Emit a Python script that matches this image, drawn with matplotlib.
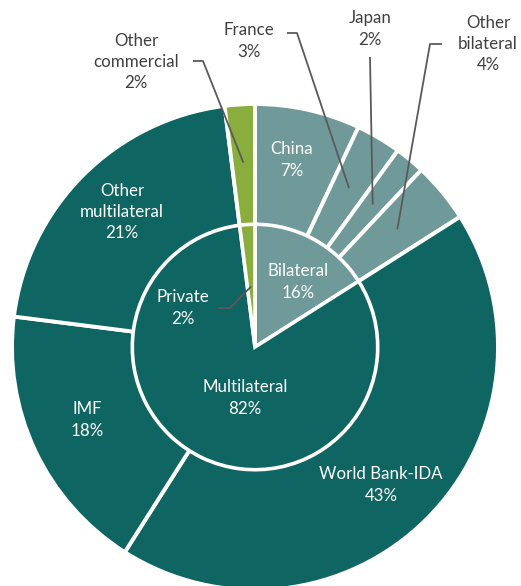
import matplotlib
matplotlib.use("Agg")
import matplotlib.pyplot as plt
import numpy as np

# ---- data ----
inner_labels = ["Bilateral", "Multilateral", "Private"]
inner_values = [16, 82, 2]
outer_labels = ["China", "France", "Japan", "Other bilateral", "World Bank-IDA",
                "IMF", "Other multilateral", "Other commercial"]
outer_values = [7, 3, 2, 4, 43, 18, 21, 2]

DARK = "#0e6561"
LIGHT = "#6f9a99"
GREEN = "#8aae3e"
inner_colors = [LIGHT, DARK, GREEN]
outer_colors = [LIGHT, LIGHT, LIGHT, LIGHT, DARK, DARK, DARK, GREEN]

plt.rcParams['font.family'] = ['Lato', 'DejaVu Sans']

W, H = 521, 586
fig = plt.figure(figsize=(W / 100, H / 100), dpi=100)
ax = fig.add_axes([0, 0, 1, 1])

CX, CY, R = 255, 347, 243  # pixel centre and radius


def px(x, y):
    return (x - CX) / R, (CY - y) / R


wouter, _ = ax.pie(outer_values, colors=outer_colors, radius=1.0, startangle=90,
                   counterclock=False,
                   wedgeprops=dict(edgecolor='white', linewidth=2.8))
winner, _ = ax.pie(inner_values, colors=inner_colors, radius=0.505, startangle=90,
                   counterclock=False,
                   wedgeprops=dict(edgecolor='white', linewidth=2.6))
ax.set_xlim(px(0, 0)[0], px(W, 0)[0])
ax.set_ylim(px(0, H)[1], px(0, 0)[1])
ax.set_aspect('equal')
ax.axis('off')


def mid_angle(values, i):
    start = 90 - sum(values[:i]) * 3.6
    return np.deg2rad(start - values[i] * 1.8)


FS = 12.2
TXT = dict(color='white', fontsize=FS, ha='center', va='center', linespacing=1.42)
DTXT = dict(color='#404040', fontsize=FS, ha='center', va='center', linespacing=1.42)


def lab(text, x, y, **kw):
    ax.text(*px(x, y), text, **kw)

# in-slice labels
lab("China\n7%", 292, 160, **TXT)
lab("Other\nmultilateral\n21%", 122, 212, **TXT)
lab("Bilateral\n16%", 298, 282, **TXT)
lab("Private\n2%", 183, 308, **TXT)
lab("Multilateral\n82%", 245, 398, **TXT)
lab("IMF\n18%", 87, 420, **TXT)
lab("World Bank-IDA\n43%", 381, 485, **TXT)

# outside labels
lab("France\n3%", 249, 41, **DTXT)
lab("Japan\n2%", 370, 29, **DTXT)
lab("Other\nbilateral\n4%", 488, 44, **DTXT)
lab("Other\ncommercial\n2%", 136, 62, **DTXT)

LC = dict(color='#5a5a5a', lw=1.3, solid_capstyle='butt')


def leader(values, i, r, pts):
    a = mid_angle(values, i)
    end = (r * np.cos(a), r * np.sin(a))
    xs = [px(*p)[0] for p in pts] + [end[0]]
    ys = [px(*p)[1] for p in pts] + [end[1]]
    ax.plot(xs, ys, **LC)

leader(outer_values, 1, 0.76, [(287, 33), (297, 33)])
leader(outer_values, 2, 0.76, [(370, 57)])
leader(outer_values, 3, 0.76, [(442, 44), (430, 44)])
leader(outer_values, 7, 0.76, [(193, 61), (203, 61)])
leader(inner_values, 2, 0.25, [(218, 308), (230, 308)])

fig.savefig("out.png", dpi=100)
